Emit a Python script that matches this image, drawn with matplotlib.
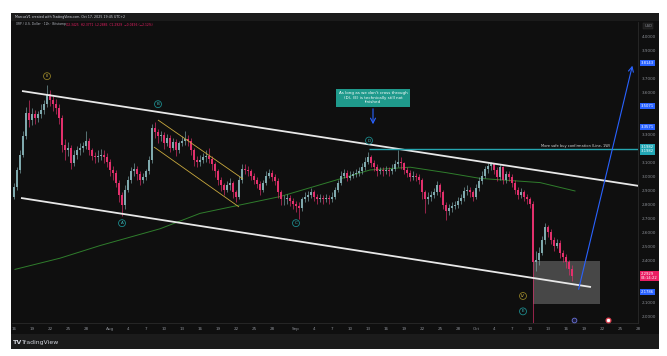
import matplotlib
matplotlib.use("Agg")
import matplotlib.pyplot as plt
import matplotlib.dates as mdates
from matplotlib.patches import Rectangle
import pandas as pd

plt.rcParams["font.family"] = ["DejaVu Sans"]

BG = "#0f0f0f"
PANEL = "#1b1b1b"
UP = "#7fa9ad"
DOWN = "#e2306c"
AXTXT = "#8c8f96"
BLUE = "#2962ff"
TEAL = "#1f9a8c"

# ---------------------------------------------------------------------------
# data: XRP/USD 12h candles, 16 Jul -> 17 Oct 2025
# ---------------------------------------------------------------------------
first_open = 2.86
closes = [
    2.93, 3.05, 3.16, 3.29, 3.46, 3.41, 3.45, 3.42, 3.45, 3.48,
    3.52, 3.59, 3.55, 3.52, 3.49, 3.42, 3.23, 3.19, 3.21, 3.10,
    3.16, 3.19, 3.21, 3.22, 3.26, 3.19, 3.15, 3.14, 3.15, 3.16,
    3.14, 3.11, 3.05, 3.03, 2.96, 2.87, 2.80, 2.91, 2.98, 3.04,
    3.06, 3.02, 2.98, 3.00, 3.04, 3.12, 3.35, 3.32, 3.29, 3.30,
    3.24, 3.28, 3.21, 3.25, 3.19, 3.24, 3.26, 3.27, 3.26, 3.19,
    3.12, 3.11, 3.12, 3.14, 3.15, 3.13, 3.09, 3.04, 2.98, 2.94,
    2.91, 2.94, 2.96, 2.89, 2.86, 2.98, 3.06, 3.05, 3.04, 3.01,
    2.98, 2.95, 2.91, 2.96, 3.01, 3.03, 3.00, 2.97, 2.89, 2.84,
    2.84, 2.85, 2.83, 2.81, 2.79, 2.78, 2.84, 2.86, 2.87, 2.89,
    2.86, 2.84, 2.85, 2.84, 2.85, 2.84, 2.86, 2.91, 2.96, 3.01,
    3.03, 2.99, 3.01, 3.02, 3.03, 3.04, 3.07, 3.11, 3.14, 3.10,
    3.07, 3.04, 3.05, 3.04, 3.05, 3.04, 3.06, 3.09, 3.11, 3.10,
    3.05, 3.03, 3.00, 3.01, 3.00, 2.98, 2.89, 2.84, 2.86, 2.87,
    2.89, 2.94, 2.89, 2.80, 2.76, 2.78, 2.79, 2.80, 2.83, 2.85,
    2.90, 2.91, 2.89, 2.86, 2.92, 2.97, 3.01, 3.06, 3.08, 3.09,
    3.05, 3.00, 3.07, 2.98, 3.02, 3.00, 2.96, 2.91, 2.87, 2.89,
    2.86, 2.84, 2.81, 2.39, 2.41, 2.46, 2.55, 2.64, 2.61, 2.55,
    2.51, 2.53, 2.46, 2.43, 2.39, 2.34, 2.29,
]
highs = [
    2.96, 3.07, 3.19, 3.33, 3.50, 3.55, 3.49, 3.48, 3.47, 3.52,
    3.55, 3.66, 3.62, 3.58, 3.56, 3.52, 3.44, 3.27, 3.25, 3.23,
    3.19, 3.22, 3.24, 3.25, 3.33, 3.28, 3.21, 3.18, 3.19, 3.20,
    3.19, 3.17, 3.13, 3.08, 3.05, 2.98, 2.89, 2.94, 3.01, 3.07,
    3.10, 3.08, 3.04, 3.03, 3.06, 3.15, 3.38, 3.39, 3.34, 3.33,
    3.32, 3.31, 3.30, 3.28, 3.27, 3.26, 3.29, 3.33, 3.30, 3.28,
    3.21, 3.15, 3.16, 3.17, 3.19, 3.21, 3.15, 3.11, 3.06, 3.00,
    2.96, 2.97, 2.99, 2.97, 2.91, 3.01, 3.09, 3.09, 3.08, 3.06,
    3.03, 3.00, 2.97, 2.98, 3.04, 3.06, 3.05, 3.02, 2.99, 2.91,
    2.87, 2.88, 2.87, 2.85, 2.83, 2.82, 2.86, 2.89, 2.90, 2.92,
    2.91, 2.88, 2.88, 2.87, 2.88, 2.87, 2.89, 2.93, 2.98, 3.04,
    3.06, 3.05, 3.04, 3.04, 3.06, 3.07, 3.10, 3.14, 3.18, 3.16,
    3.12, 3.09, 3.07, 3.07, 3.08, 3.07, 3.09, 3.12, 3.19, 3.14,
    3.11, 3.07, 3.05, 3.04, 3.03, 3.02, 2.99, 2.91, 2.89, 2.90,
    2.92, 2.97, 2.96, 2.91, 2.82, 2.81, 2.82, 2.83, 2.86, 2.88,
    2.93, 2.94, 2.93, 2.91, 2.95, 3.00, 3.04, 3.08, 3.10, 3.11,
    3.10, 3.07, 3.09, 3.08, 3.04, 3.04, 3.02, 2.98, 2.93, 2.92,
    2.91, 2.88, 2.86, 2.83, 2.47, 2.50, 2.58, 2.67, 2.66, 2.63,
    2.57, 2.56, 2.55, 2.48, 2.45, 2.41, 2.37,
]
lows = [
    2.84, 2.91, 3.03, 3.14, 3.27, 3.36, 3.37, 3.38, 3.39, 3.42,
    3.45, 3.50, 3.51, 3.47, 3.45, 3.38, 3.18, 3.12, 3.15, 3.06,
    3.08, 3.13, 3.16, 3.18, 3.20, 3.16, 3.12, 3.10, 3.11, 3.12,
    3.10, 3.07, 3.01, 2.98, 2.93, 2.82, 2.72, 2.77, 2.89, 2.96,
    3.01, 2.98, 2.94, 2.96, 2.98, 3.02, 3.10, 3.28, 3.24, 3.26,
    3.20, 3.22, 3.18, 3.19, 3.15, 3.17, 3.22, 3.23, 3.22, 3.16,
    3.08, 3.07, 3.08, 3.10, 3.11, 3.10, 3.05, 3.00, 2.94, 2.90,
    2.87, 2.89, 2.91, 2.85, 2.82, 2.84, 2.96, 3.02, 3.01, 2.98,
    2.95, 2.92, 2.87, 2.89, 2.94, 2.99, 2.97, 2.94, 2.85, 2.80,
    2.80, 2.81, 2.79, 2.77, 2.75, 2.70, 2.76, 2.82, 2.83, 2.85,
    2.83, 2.81, 2.82, 2.81, 2.82, 2.81, 2.82, 2.84, 2.89, 2.94,
    2.99, 2.97, 2.98, 2.99, 3.00, 3.01, 3.02, 3.05, 3.09, 3.07,
    3.04, 3.01, 3.02, 3.01, 3.02, 3.01, 3.02, 3.04, 3.07, 3.06,
    3.02, 3.00, 2.97, 2.98, 2.97, 2.95, 2.84, 2.74, 2.81, 2.83,
    2.85, 2.87, 2.86, 2.77, 2.69, 2.73, 2.75, 2.77, 2.78, 2.81,
    2.83, 2.87, 2.86, 2.83, 2.84, 2.90, 2.95, 2.99, 3.03, 3.05,
    3.02, 2.97, 2.98, 2.95, 2.96, 2.97, 2.93, 2.88, 2.84, 2.85,
    2.83, 2.81, 2.78, 1.77, 2.33, 2.37, 2.44, 2.52, 2.57, 2.52,
    2.47, 2.49, 2.42, 2.39, 2.35, 2.30, 2.26,
]

# moving average (green) knots
ma_dates = ["2025-07-16 04:00", "2025-07-23 16:00", "2025-07-30 08:00",
            "2025-08-04 08:00", "2025-08-09 08:00", "2025-08-16 00:00",
            "2025-08-22 16:00", "2025-08-29 08:00", "2025-09-07 20:00",
            "2025-09-13 08:00", "2025-09-16 16:00", "2025-09-20 00:00",
            "2025-09-26 04:00", "2025-10-01 16:00", "2025-10-11 16:00",
            "2025-10-17 12:00"]
ma_vals = [2.34, 2.42, 2.51, 2.57, 2.63, 2.74, 2.80, 2.86, 2.98,
           3.05, 3.06, 3.07, 3.03, 2.99, 2.96, 2.90]

# drawings
upper_chan = (["2025-07-17 08:00", "2025-10-28 04:00"], [3.614, 2.936])
lower_chan = (["2025-07-17 04:00", "2025-10-20 04:00"], [2.850, 2.214])
yellow_up = (["2025-08-09 00:00", "2025-08-23 04:00"], [3.407, 2.986])
yellow_lo = (["2025-08-08 08:00", "2025-08-22 12:00"], [3.214, 2.786])
buy_line = (["2025-09-13 04:00", "2025-10-29 00:00"], [3.198, 3.198])
up_arrow = (["2025-10-18 00:00", "2025-10-27 04:00"], [2.179, 3.814])
down_arrow = (["2025-09-13 20:00", "2025-09-13 20:00"], [3.507, 3.357])
zone = (["2025-10-10 12:00", "2025-10-21 16:00"], [2.093, 2.400])

wave_labels = ["III", "B", "A", "C", "D", "IV", "E"]
wave_dates = ["2025-07-21 12:00", "2025-08-09 00:00", "2025-08-03 00:00",
              "2025-09-01 00:00", "2025-09-13 04:00", "2025-10-08 20:00",
              "2025-10-08 20:00"]
wave_prices = [3.72, 3.52, 2.67, 2.67, 3.26, 2.15, 2.04]
wave_colors = ["yellow", "cyan", "cyan", "cyan", "cyan", "yellow", "cyan"]

price_ticks = [round(2.0 + 0.1 * k, 1) for k in range(21)]
tag_prices = [3.8143, 3.5071, 3.3571, 3.1982, 2.2929, 2.1786]
tag_texts = ["3.8143", "3.5071", "3.3571", "3.1982\n3.1982",
             "2.2929\n04:14:22", "2.1786"]
tag_colors = [BLUE, BLUE, BLUE, "#22a7b5", "#e91e63", BLUE]

date_ticks = ["2025-07-16", "2025-07-19", "2025-07-22", "2025-07-25",
              "2025-07-28", "2025-08-01", "2025-08-04", "2025-08-07",
              "2025-08-10", "2025-08-13", "2025-08-16", "2025-08-19",
              "2025-08-22", "2025-08-25", "2025-08-28", "2025-09-01",
              "2025-09-04", "2025-09-07", "2025-09-10", "2025-09-13",
              "2025-09-16", "2025-09-19", "2025-09-22", "2025-09-25",
              "2025-09-28", "2025-10-01", "2025-10-04", "2025-10-07",
              "2025-10-10", "2025-10-13", "2025-10-16", "2025-10-19",
              "2025-10-22", "2025-10-25", "2025-10-28"]
date_labels = ["16", "19", "22", "25", "28", "Aug", "4", "7", "10", "13",
               "16", "19", "22", "25", "28", "Sep", "4", "7", "10", "13",
               "16", "19", "22", "25", "28", "Oct", "4", "7", "10", "13",
               "16", "19", "22", "25", "28"]


def dn(s):
    return mdates.date2num(pd.to_datetime(s).to_pydatetime())


W, H = 667, 356


def fx(px):
    return px / W


def fy(py):
    return 1 - py / H


fig = plt.figure(figsize=(W / 100, H / 100), dpi=100, facecolor="white")

# screenshot frame: dark body, header band, footer band
for (x0, y0, x1, y1, c) in [(11, 13, 659, 349, BG), (11, 13, 659, 21, PANEL),
                            (11, 334, 659, 349, PANEL)]:
    fig.patches.append(Rectangle((fx(x0), fy(y1)), (x1 - x0) / W, (y1 - y0) / H,
                                 transform=fig.transFigure, fc=c, ec="none",
                                 zorder=-10))

ax = fig.add_axes([fx(12), fy(323), (638 - 12) / W, (323 - 22) / H])
ax.set_zorder(5)
ax.set_facecolor(BG)

times = pd.date_range("2025-07-16", periods=len(closes), freq="12h")
xs = mdates.date2num(times.to_pydatetime())
opens = [first_open] + closes[:-1]

# --- candles ---------------------------------------------------------------
cols = [UP if c >= o else DOWN for o, c in zip(opens, closes)]
ax.vlines(xs, lows, highs, colors=cols, lw=0.45, zorder=3)
bottoms = [min(o, c) for o, c in zip(opens, closes)]
heights = [max(abs(c - o), 0.006) for o, c in zip(opens, closes)]
ax.bar(xs, heights, bottom=bottoms, width=0.34, color=cols, lw=0, zorder=4)

# --- moving average & drawings ----------------------------------------------
ax.plot([dn(d) for d in ma_dates], ma_vals, color="#2f7d2c", lw=0.7, zorder=2)

for (d, v), col, lw in [(upper_chan, "#e8e8e8", 1.3), (lower_chan, "#e8e8e8", 1.3),
                         (yellow_up, "#c9a93e", 0.6), (yellow_lo, "#c9a93e", 0.6),
                         (buy_line, "#25a6b0", 1.0)]:
    ax.plot([dn(t) for t in d], v, color=col, lw=lw, zorder=5,
            solid_capstyle="butt")

zx = [dn(t) for t in zone[0]]
ax.add_patch(Rectangle((zx[0], zone[1][0]), zx[1] - zx[0], zone[1][1] - zone[1][0],
                       fc="#5a5a5a", ec="none", alpha=0.75, zorder=2))

for d, v in (up_arrow, down_arrow):
    ax.annotate("", xy=(dn(d[1]), v[1]), xytext=(dn(d[0]), v[0]),
                arrowprops=dict(arrowstyle="->,head_length=0.35,head_width=0.18",
                                color=BLUE, lw=0.8), zorder=6,
                annotation_clip=False)

ax.text(dn("2025-09-13 20:00"), 3.566,
        "As long as we don't cross through\n(D), (E) is technically still not\nfinished",
        fontsize=2.9, color="white", ha="center", va="center", linespacing=1.25,
        bbox=dict(boxstyle="square,pad=0.6", fc=TEAL, ec="none"), zorder=7)
ax.text(dn("2025-10-23 08:00"), 3.207, "More safe buy confirmation (Line, 1W)",
        fontsize=2.6, color="#d8d8d8", ha="right", va="bottom", zorder=7)

for lab, d, p, c in zip(wave_labels, wave_dates, wave_prices, wave_colors):
    ring, txt = (("#8f7d25", "#d9bc48") if c == "yellow"
                 else ("#1c8a8c", "#3ec0c2"))
    ax.text(dn(d), p, lab, fontsize=3.0, color=txt, ha="center", va="center",
            bbox=dict(boxstyle="circle,pad=0.35", fc=BG, ec=ring, lw=0.6),
            zorder=8)

# event icons at the bottom
ax.plot(dn("2025-10-17 08:00"), 1.975, "o", ms=3.4, mfc="#1c1c3a", mec="#6a73d9",
        mew=0.6, zorder=8, clip_on=False)
ax.plot(dn("2025-10-23 00:00"), 1.975, "o", ms=3.4, mfc="white", mec="#e04050",
        mew=0.9, zorder=8, clip_on=False)

# --- axes ------------------------------------------------------------------
ax.set_xlim(dn("2025-07-15 16:00"), dn("2025-10-28 00:00"))
ax.set_ylim(1.957, 4.107)

hidden = [p for p in price_ticks if any(abs(p - t) < 0.055 for t in tag_prices)]
shown = [p for p in price_ticks if p not in hidden]
ax.yaxis.tick_right()
ax.set_yticks(shown)
ax.set_yticklabels([f"{p:.4f}" for p in shown])
ax.set_xticks([dn(d) for d in date_ticks])
ax.set_xticklabels(date_labels)
ax.tick_params(axis="both", length=0, labelsize=3.0, labelcolor=AXTXT)
ax.tick_params(axis="y", pad=3.0)
ax.tick_params(axis="x", pad=3.2)
for s in ("top", "left"):
    ax.spines[s].set_visible(False)
for s in ("right", "bottom"):
    ax.spines[s].set_color("#2a2a2a")
    ax.spines[s].set_linewidth(0.6)

for p, t, c in zip(tag_prices, tag_texts, tag_colors):
    ax.annotate(t, xy=(1, p), xycoords=("axes fraction", "data"),
                xytext=(2.0, 0), textcoords="offset points", ha="left",
                va="center", fontsize=2.7, color="white", linespacing=1.1,
                bbox=dict(boxstyle="square,pad=0.3", fc=c, ec="none"),
                annotation_clip=False, zorder=9)
ax.annotate("USD", xy=(1, 1), xycoords="axes fraction", xytext=(4.5, -1.5),
            textcoords="offset points", ha="left", va="top", fontsize=2.6,
            color=AXTXT, bbox=dict(boxstyle="square,pad=0.3", fc="#1e1e1e",
                                   ec="#333333", lw=0.3), annotation_clip=False)

# --- header / footer texts ------------------------------------------------
fig.text(fx(15), fy(17), "MarcusV1 created with TradingView.com, Oct 17, 2025 19:45 UTC+2",
         fontsize=2.3, color="#d1d4dc", va="center")
fig.text(fx(16), fy(24.5), "XRP / U.S. Dollar · 12h · Bitstamp",
         fontsize=2.2, color="#b2b5be", va="center", zorder=10)
fig.text(fx(66), fy(24.5), "O2.3425  H2.3771  L2.2886  C2.2929  −0.0496 (−2.12%)",
         fontsize=2.2, color="#e91e63", va="center", zorder=10)
fig.text(fx(13), fy(342.5), "TV", fontsize=4.6, weight="bold", color="#d1d4dc",
         va="center")
fig.text(fx(22), fy(342.5), "TradingView", fontsize=4.4, color="#d1d4dc",
         va="center")

fig.savefig("out.png", dpi=100, facecolor="white")
